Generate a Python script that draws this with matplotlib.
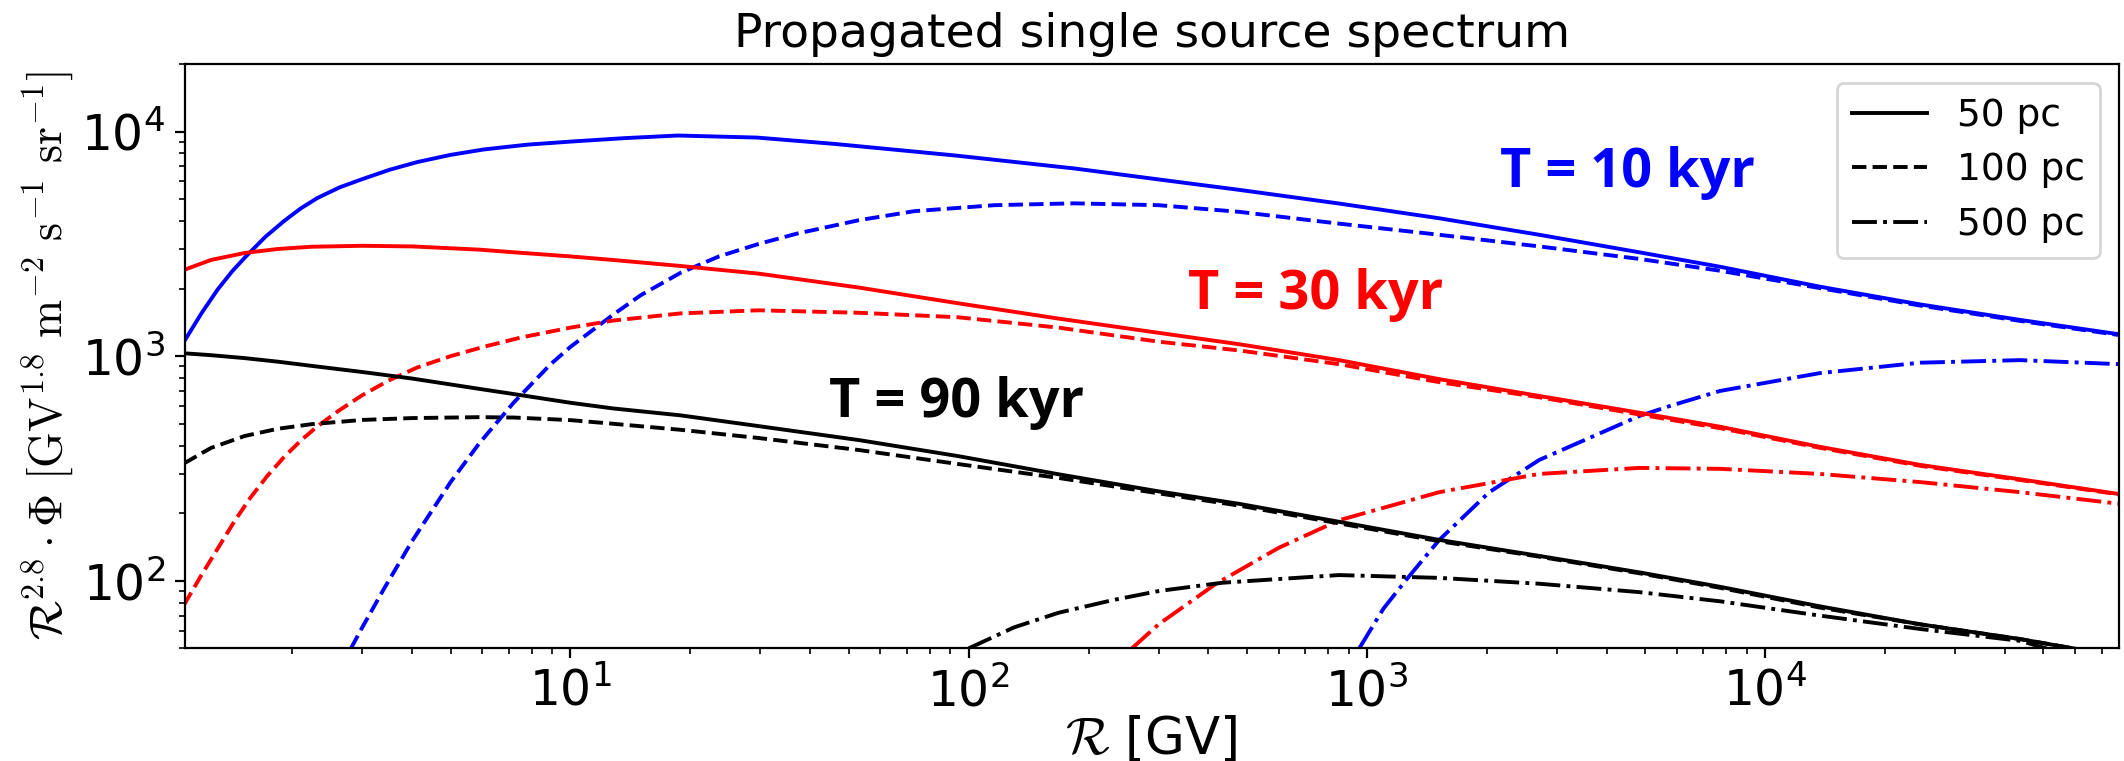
import matplotlib
matplotlib.use("Agg")
import matplotlib.pyplot as plt

# rigidity grid (GV) shared by the gentler curves
R = [1.07, 1.25, 1.52, 1.84, 2.24, 3.0, 4.0, 5.9, 7.2, 10, 12.8, 18.9, 29.7, 53, 94,
     168, 300, 478, 852, 1520, 2710, 4830, 7710, 13700, 24500, 43700, 77800]

# T = 10 kyr
R_t10_50pc = [1.07, 1.185, 1.30, 1.415, 1.54, 1.714, 1.91, 2.099, 2.31, 2.633, 3.0, 3.516, 4.12, 4.995,
              6.05, 7.78, 10, 13.63, 18.6, 29.4, 46, 92, 184, 339, 478, 852, 1520, 2710, 4830, 7710,
              13700, 24500, 43700, 77800]
t10_50pc = [1160, 1556, 1980, 2391, 2810, 3401, 4000, 4540, 5050, 5645, 6140, 6761, 7310, 7870,
            8320, 8740, 9020, 9343, 9600, 9400, 8810, 7830, 6850, 5950, 5500, 4780, 4110, 3470, 2900, 2500,
            2040, 1700, 1450, 1250]
R_t10_100pc = [2.81, 3.0, 3.4, 4.0, 5.0, 5.9, 7.2, 8.9, 10, 12.8, 15, 18.9, 23.6, 29.7, 37, 53, 73,
               116, 184, 300, 478, 852, 1520, 2710, 4830, 7710, 13700, 24500, 43700, 77800]
t10_100pc = [50, 62, 92, 150, 275, 409, 621, 918, 1100, 1530, 1866, 2350, 2780, 3160, 3510, 4030, 4420,
             4700, 4790, 4700, 4390, 3890, 3470, 3080, 2710, 2400, 2010, 1680, 1435, 1240]
R_t10_500pc = [957, 1100, 1250, 1520, 2030, 2710, 4830, 5770, 7710, 13700, 24500, 43700, 77800]
t10_500pc = [50, 75, 100, 152, 248, 345, 541, 600, 700, 840, 935, 960, 921]

# T = 30 kyr
t30_50pc = [2420, 2680, 2880, 3000, 3070, 3100, 3080, 2980, 2900, 2780, 2680, 2520, 2330, 2020, 1720,
            1470, 1270, 1130, 960, 790, 665, 560, 485, 395, 328, 283, 243]
R_t30_100pc = [1.07, 1.18, 1.30, 1.43, 1.57, 1.73, 1.91, 2.1, 2.31, 2.63, 3.0, 3.5, 4.12, 5.0, 6.05,
               7.5, 10, 12.8, 18.9, 29.7, 53, 94, 168, 300, 478, 852, 1520, 2710, 4830, 7710,
               13700, 24500, 43700, 77800]
t30_100pc = [78, 105, 139, 183, 234, 292, 356, 420, 486, 575, 670, 780, 890, 1000, 1100,
             1210, 1340, 1440, 1550, 1600, 1560, 1490, 1340, 1160, 1060, 921, 766, 656, 550, 478,
             391, 325, 281, 242]
R_t30_500pc = [257, 300, 418, 600, 852, 1520, 2710, 4830, 7710, 13700, 24500, 43700, 77800]
t30_500pc = [50, 64, 97, 140, 186, 248, 299, 318, 315, 299, 275, 248, 220]

# T = 90 kyr
t90_50pc = [1030, 1010, 980, 945, 905, 850, 795, 715, 678, 620, 585, 545, 488, 423, 359,
            298, 250, 220, 183, 152, 129, 109, 94, 77, 64, 55, 46]
t90_100pc = [333, 390, 441, 475, 498, 520, 530, 535, 533, 519, 500, 470, 432, 382, 331,
             287, 245, 216, 180, 150, 128, 108, 93, 76, 64, 55, 46]
R_t90_500pc = [100, 130, 168, 230, 300, 434, 852, 1520, 2710, 4830, 7710, 13700, 24500, 43700, 55000]
t90_500pc = [50, 62, 72, 82, 90, 98, 106, 103, 97, 89, 81, 70, 61, 54, 48]

plt.rcParams.update({"font.family": "DejaVu Sans", "font.size": 17})

fig = plt.figure(figsize=(10.62, 3.805), dpi=200)
ax = fig.add_axes([0.087, 0.148, 0.9105, 0.768])
lw = 1.4

ax.plot(R_t10_50pc, t10_50pc, color="blue", lw=lw, ls="-")
ax.plot(R_t10_100pc, t10_100pc, color="blue", lw=lw, ls="--")
ax.plot(R_t10_500pc, t10_500pc, color="blue", lw=lw, ls="-.")
ax.plot(R, t30_50pc, color="red", lw=lw, ls="-")
ax.plot(R_t30_100pc, t30_100pc, color="red", lw=lw, ls="--")
ax.plot(R_t30_500pc, t30_500pc, color="red", lw=lw, ls="-.")
ax.plot(R, t90_50pc, color="black", lw=lw, ls="-")
ax.plot(R, t90_100pc, color="black", lw=lw, ls="--")
ax.plot(R_t90_500pc, t90_500pc, color="black", lw=lw, ls="-.")

# legend handles (distance only)
h1, = ax.plot([], [], color="black", lw=lw, ls="-", label="50 pc")
h2, = ax.plot([], [], color="black", lw=lw, ls="--", label="100 pc")
h3, = ax.plot([], [], color="black", lw=lw, ls="-.", label="500 pc")
ax.legend(handles=[h1, h2, h3], loc="upper right", fontsize=13.5)

ax.set_xscale("log"); ax.set_yscale("log")
ax.set_xlim(1.075, 77300)
ax.set_ylim(50, 2e4)
ax.tick_params(labelsize=17.5)

ax.set_title("Propagated single source spectrum", fontsize=17)
ax.set_xlabel(r"$\mathcal{R}$ [GV]", fontsize=18.5, math_fontfamily="cm", labelpad=-1)
ax.set_ylabel(r"$\mathcal{R}^{2.8}\cdot\Phi\ [\mathrm{GV}^{1.8}\ \mathrm{m}^{-2}\ \mathrm{s}^{-1}\ \mathrm{sr}^{-1}]$",
              fontsize=16.5, math_fontfamily="cm")
ax.yaxis.set_label_coords(-0.056, 0.5)

bold = dict(family="Open Sans", fontweight="bold", fontsize=19.5, transform=ax.transAxes, va="center")
ax.text(0.680, 0.814, "T = 10 kyr", color="blue", **bold)
ax.text(0.519, 0.604, "T = 30 kyr", color="red", **bold)
ax.text(0.333, 0.420, "T = 90 kyr", color="black", **bold)

fig.savefig("out.png", dpi=200)
